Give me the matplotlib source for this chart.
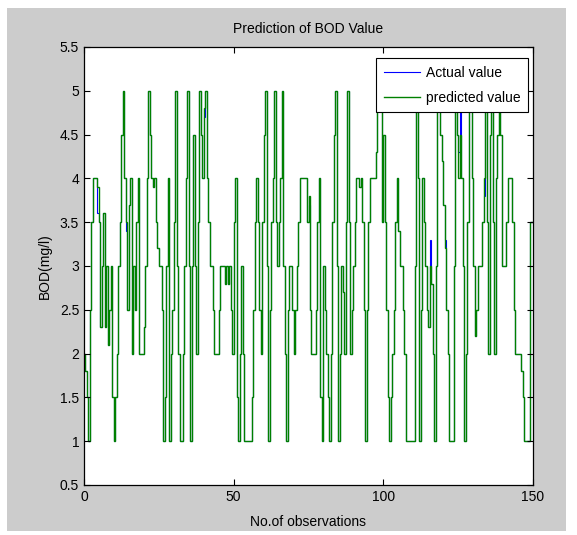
import numpy as np
import matplotlib
matplotlib.use("Agg")
import matplotlib.pyplot as plt
from matplotlib.patches import Rectangle

plt.rcParams['font.family'] = ['Liberation Sans', 'DejaVu Sans']

actual = [
    2.0, 1.8, 1.5, 1.0, 2.5, 3.5, 4.0, 4.0, 4.0, 3.6,
    3.5, 2.3, 3.0, 3.6, 2.3, 3.0, 2.1, 2.5, 3.0, 1.5,
    1.0, 1.5, 2.0, 3.0, 3.5, 4.5, 5.0, 4.0, 3.4, 2.5,
    3.7, 4.0, 2.0, 3.0, 2.5, 3.5, 4.0, 2.0, 2.0, 2.0,
    2.3, 3.0, 4.0, 5.0, 4.5, 4.0, 3.9, 4.0, 3.5, 3.2,
    3.0, 3.0, 2.5, 1.0, 1.5, 3.0, 4.0, 1.0, 2.0, 2.5,
    3.5, 5.0, 3.0, 2.0, 1.0, 1.0, 2.0, 3.0, 4.0, 5.0,
    3.0, 1.0, 3.0, 4.5, 3.0, 2.0, 3.5, 5.0, 4.5, 4.0,
    4.7, 5.0, 4.0, 3.5, 3.0, 3.0, 2.5, 2.0, 2.0, 2.0,
    2.5, 3.0, 3.0, 3.0, 2.8, 3.0, 2.8, 3.0, 2.5, 2.0,
    3.5, 4.0, 1.5, 1.0, 2.0, 3.0, 2.0, 1.0, 1.0, 1.0,
    1.0, 1.0, 1.5, 2.5, 3.5, 4.0, 3.5, 2.5, 2.0, 3.5,
    4.5, 5.0, 3.0, 1.0, 2.5, 3.5, 4.0, 5.0, 3.5, 3.0,
    3.5, 4.0, 5.0, 3.0, 2.0, 1.0, 2.5, 3.0, 3.0, 2.5,
    2.0, 2.5, 3.0, 3.5, 4.0, 4.0, 4.0, 4.0, 4.0, 3.5,
    3.7, 2.5, 2.0, 2.0, 2.0, 2.5, 3.5, 4.0, 1.5, 1.0,
    3.0, 2.5, 2.0, 1.5, 1.0, 2.0, 3.5, 4.5, 5.0, 3.0,
    1.0, 2.0, 3.0, 2.7, 2.0, 3.5, 5.0, 3.5, 2.0, 2.5,
    3.0, 3.5, 4.0, 4.0, 3.9, 4.0, 3.5, 2.5, 1.0, 2.5,
    3.5, 4.0, 4.0, 4.0, 4.0, 4.3, 5.0, 5.0, 5.0, 3.5,
    4.5, 3.5, 2.5, 1.5, 1.0, 1.5, 2.0, 2.5, 3.5, 4.0,
    3.4, 3.0, 3.0, 2.5, 2.0, 1.0, 1.0, 1.0, 1.0, 1.0,
    1.0, 3.0, 4.8, 4.0, 1.0, 2.5, 4.0, 3.5, 3.0, 2.5,
    2.3, 3.3, 2.8, 2.0, 1.0, 3.0, 5.0, 5.0, 4.5, 4.2,
    3.7, 3.3, 2.5, 2.0, 1.0, 1.0, 1.0, 3.0, 5.0, 4.5,
    4.3, 4.8, 4.0, 3.0, 1.0, 2.0, 3.5, 5.0, 5.0, 4.0,
    3.0, 2.2, 2.5, 3.0, 3.0, 3.0, 3.5, 3.8, 5.0, 3.5,
    2.0, 4.5, 5.0, 3.5, 2.0, 4.0, 4.5, 5.0, 4.5, 3.0,
    3.0, 3.0, 3.5, 4.0, 4.0, 4.0, 3.5, 2.5, 2.0, 2.0,
    2.0, 2.0, 1.8, 1.5, 1.0, 1.0, 1.0, 1.0, 3.5, 3.5,
]

predicted = [
    2.0, 1.8, 1.5, 1.0, 2.5, 3.5, 4.0, 4.0, 4.0, 3.9,
    3.5, 2.3, 3.0, 3.6, 2.3, 3.0, 2.1, 2.5, 3.0, 1.5,
    1.0, 1.5, 2.0, 3.0, 3.5, 4.5, 5.0, 4.0, 3.5, 2.5,
    3.7, 4.0, 2.0, 3.0, 2.5, 3.5, 4.0, 2.0, 2.0, 2.0,
    2.3, 3.0, 4.0, 5.0, 4.5, 4.0, 3.9, 4.0, 3.5, 3.2,
    3.0, 3.0, 2.5, 1.0, 1.5, 3.0, 4.0, 1.0, 2.0, 2.5,
    3.5, 5.0, 3.0, 2.0, 1.0, 1.0, 2.0, 3.0, 4.0, 5.0,
    3.0, 1.0, 3.0, 4.5, 3.0, 2.0, 3.5, 5.0, 4.5, 4.0,
    4.8, 5.0, 4.0, 3.5, 3.0, 3.0, 2.5, 2.0, 2.0, 2.0,
    2.5, 3.0, 3.0, 3.0, 2.8, 3.0, 2.8, 3.0, 2.5, 2.0,
    3.5, 4.0, 1.5, 1.0, 2.0, 3.0, 2.0, 1.0, 1.0, 1.0,
    1.0, 1.0, 1.5, 2.5, 3.5, 4.0, 3.5, 2.5, 2.0, 3.5,
    4.5, 5.0, 3.0, 1.0, 2.5, 3.5, 4.0, 5.0, 3.5, 3.0,
    3.5, 4.0, 5.0, 3.0, 2.0, 1.0, 2.5, 3.0, 3.0, 2.5,
    2.0, 2.5, 3.0, 3.5, 4.0, 4.0, 4.0, 4.0, 4.0, 3.5,
    3.8, 2.5, 2.0, 2.0, 2.0, 2.5, 3.5, 4.0, 1.5, 1.0,
    3.0, 2.5, 2.0, 1.5, 1.0, 2.0, 3.5, 4.5, 5.0, 3.0,
    1.0, 2.0, 3.0, 2.7, 2.0, 3.5, 5.0, 3.5, 2.0, 2.5,
    3.0, 3.5, 4.0, 4.0, 3.9, 4.0, 3.5, 2.5, 1.0, 2.5,
    3.5, 4.0, 4.0, 4.0, 4.0, 4.3, 5.0, 5.0, 5.0, 3.5,
    4.5, 3.5, 2.5, 1.5, 1.0, 1.5, 2.0, 2.5, 3.5, 4.0,
    3.4, 3.0, 3.0, 2.5, 2.0, 1.0, 1.0, 1.0, 1.0, 1.0,
    1.0, 3.0, 5.0, 4.0, 1.0, 2.5, 4.0, 3.5, 3.0, 2.5,
    2.3, 3.0, 2.8, 2.0, 1.0, 3.0, 5.0, 5.0, 4.5, 4.2,
    3.7, 3.2, 2.5, 2.0, 1.0, 1.0, 1.0, 3.0, 5.0, 4.5,
    4.0, 4.5, 4.0, 3.0, 1.0, 2.0, 3.5, 5.0, 5.0, 4.0,
    3.0, 2.2, 2.5, 3.0, 3.0, 3.0, 3.5, 4.0, 5.0, 3.5,
    2.0, 4.5, 5.0, 3.5, 2.0, 4.0, 4.5, 5.0, 4.5, 3.0,
    3.0, 3.0, 3.5, 4.0, 4.0, 4.0, 3.5, 2.5, 2.0, 2.0,
    2.0, 2.0, 1.8, 1.5, 1.0, 1.0, 1.0, 1.0, 3.5, 3.5,
]

n_obs = 150
edges = np.linspace(0, n_obs, len(actual) + 1)

fig = plt.figure(figsize=(5.77, 5.35), dpi=100)
fig.patch.set_facecolor('white')
# matlab-ish grey figure panel behind the axes
panel = Rectangle((7 / 577, 1 - 531 / 535), 559 / 577, 523 / 535,
                  transform=fig.transFigure, facecolor='#cccccc',
                  edgecolor='none', zorder=-10)
fig.add_artist(panel)

ax = fig.add_axes([84 / 577, 1 - 485 / 535, 449 / 577, 438 / 535])
ax.set_zorder(5)
ax.set_facecolor('white')

ax.stairs(actual, edges, baseline=None, color='#0000ff', lw=0.8, label='Actual value')
ax.stairs(predicted, edges, baseline=None, color='#008000', lw=1.0, label='predicted value')

ax.set_xlim(0, 150)
ax.set_ylim(0.5, 5.5)
ax.set_xticks([0, 50, 100, 150])
ax.set_yticks(np.arange(0.5, 5.6, 0.5))
ax.set_yticklabels(['0.5', '1', '1.5', '2', '2.5', '3', '3.5', '4', '4.5', '5', '5.5'])
ax.tick_params(direction='in', top=True, right=True, length=4, width=0.8, labelsize=10)
for s in ax.spines.values():
    s.set_linewidth(0.9)

ax.set_title('Prediction of BOD Value', fontsize=10, pad=10)
ax.set_xlabel('No.of observations', fontsize=10, labelpad=8)
ax.set_ylabel('BOD(mg/l)', fontsize=10, labelpad=6)

leg = ax.legend(loc='upper right', bbox_to_anchor=(0.989, 0.975), borderaxespad=0,
                fontsize=10, fancybox=False, framealpha=1, edgecolor='black',
                handlelength=2.6, handletextpad=0.4, borderpad=0.55,
                labelspacing=0.8)
leg.get_frame().set_linewidth(0.8)

plt.savefig('out.png', dpi=100, facecolor=fig.get_facecolor())
